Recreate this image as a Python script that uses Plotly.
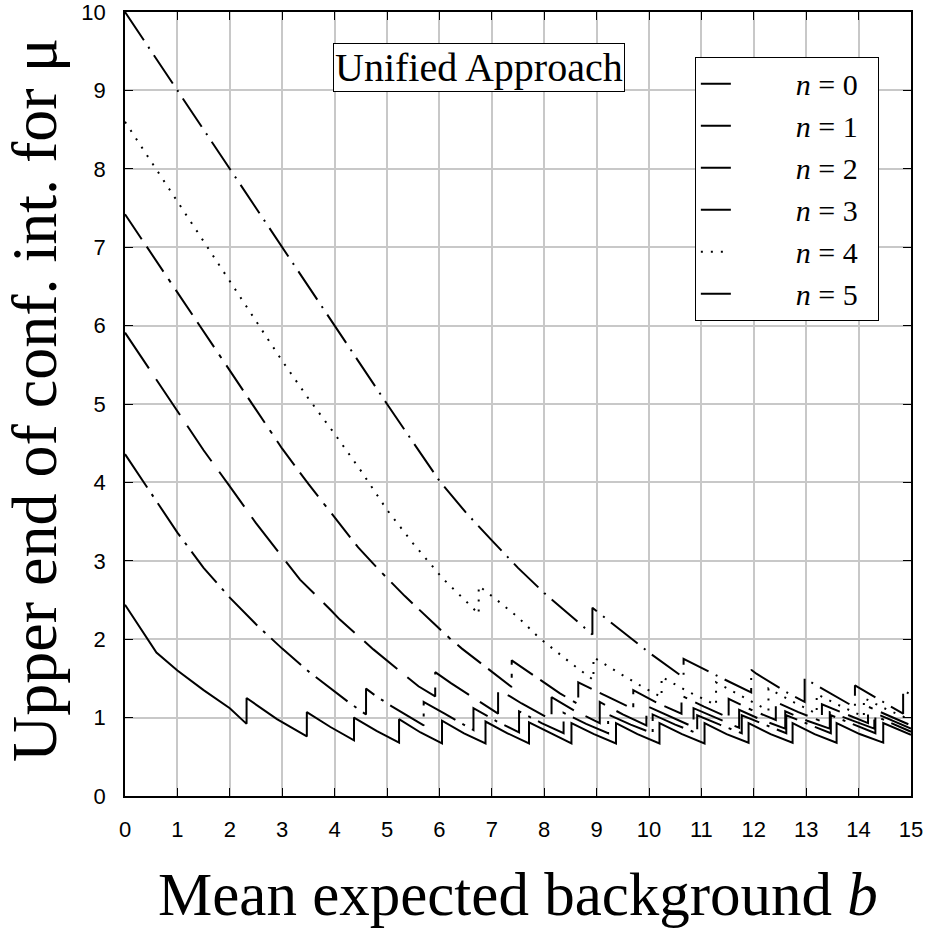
import plotly.graph_objects as go

# ---- data (b = mean expected background, mu = upper end) ----
b_n0 = [0, 0.3, 0.6, 1.0, 1.5, 2.0, 2.32, 2.32, 2.9, 3.47, 3.47, 3.92, 4.37, 4.37, 4.8, 5.23,
        5.23, 5.64, 6.05, 6.05, 6.47, 6.88, 6.88, 7.3, 7.71, 7.71, 8.12, 8.52, 8.52, 8.95, 9.37,
        9.37, 9.78, 10.2, 10.2, 10.63, 11.06, 11.06, 11.48, 11.9, 11.9, 12.32, 12.74, 12.74,
        13.16, 13.58, 13.58, 14.02, 14.47, 14.47, 15.0]
mu_n0 = [2.44, 2.13, 1.83, 1.60, 1.35, 1.12, 0.92, 1.25, 0.98, 0.76, 1.07, 0.88, 0.71, 1.00, 0.83, 0.68,
         0.98, 0.81, 0.67, 0.96, 0.80, 0.67, 0.95, 0.80, 0.67, 0.94, 0.80, 0.67, 0.93, 0.79, 0.67,
         0.93, 0.79, 0.67, 0.93, 0.79, 0.67, 0.93, 0.79, 0.68, 0.93, 0.79, 0.68, 0.93,
         0.79, 0.68, 0.93, 0.79, 0.68, 0.93, 0.78]

b_n1 = [0, 0.5, 1.0, 1.5, 2.0, 2.5, 3.0, 3.5, 4.0, 4.3, 4.6, 4.6, 4.8, 5.1, 5.7, 5.7, 6.1, 6.65,
        6.65, 7.1, 7.52, 7.52, 7.95, 8.37, 8.37, 8.8, 9.22, 9.22, 9.65, 10.07, 10.07, 10.5, 10.92,
        10.92, 11.35, 11.77, 11.77, 12.2, 12.62, 12.62, 13.05, 13.47, 13.47, 13.9, 14.32, 14.32, 15.0]
mu_n1 = [4.36, 3.86, 3.36, 2.91, 2.53, 2.19, 1.88, 1.59, 1.33, 1.18, 1.04, 1.37, 1.27, 1.14, 0.90, 1.20, 1.05, 0.84,
         1.12, 0.95, 0.81, 1.08, 0.93, 0.80, 1.06, 0.92, 0.80, 1.04, 0.91, 0.80, 1.04, 0.91, 0.80,
         1.03, 0.91, 0.80, 1.03, 0.91, 0.80, 1.03, 0.91, 0.80, 1.03, 0.91, 0.80, 1.02, 0.82]

b_n2 = [0, 0.5, 1.0, 1.5, 2.0, 2.5, 3.0, 3.34, 3.93, 4.1, 4.74, 4.96, 5.6, 5.92, 5.92, 6.22, 6.92,
        7.12, 7.12, 7.35, 7.57, 8.14, 8.14, 8.6, 9.06, 9.06, 9.5, 9.95, 9.95, 10.4, 10.85, 10.85,
        11.3, 11.72, 11.72, 12.15, 12.6, 12.6, 13.02, 13.45, 13.45, 13.88, 14.3, 14.3, 15.0]
mu_n2 = [5.91, 5.41, 4.91, 4.41, 3.95, 3.48, 3.05, 2.76, 2.37, 2.25, 1.87, 1.75, 1.40, 1.27, 1.58, 1.44, 1.14,
         1.05, 1.35, 1.27, 1.18, 0.97, 1.26, 1.08, 0.93, 1.20, 1.04, 0.90, 1.15, 1.01, 0.88, 1.12,
         0.99, 0.87, 1.10, 0.97, 0.86, 1.08, 0.96, 0.86, 1.07, 0.96, 0.86, 1.06, 0.86]

b_n3 = [0, 1.0, 2.0, 3.0, 3.5, 4.0, 4.45, 4.84, 5.34, 5.88, 6.2, 6.43, 7.0, 7.38, 7.38, 7.7, 8.3,
        8.65, 8.65, 9.2, 9.7, 9.7, 10.15, 10.62, 10.62, 11.05, 11.52, 11.52, 11.95, 12.42, 12.42,
        12.85, 13.3, 13.3, 13.75, 14.18, 14.18, 15.0]
mu_n3 = [7.42, 6.42, 5.42, 4.43, 3.98, 3.56, 3.17, 2.89, 2.55, 2.21, 2.01, 1.88, 1.58, 1.39, 1.73, 1.58, 1.31,
         1.17, 1.45, 1.27, 1.11, 1.35, 1.19, 1.05, 1.28, 1.14, 1.00, 1.24, 1.10, 0.97, 1.20,
         1.07, 0.95, 1.17, 1.05, 0.93, 1.14, 0.90]

b_n4 = [0, 0.5, 1.0, 1.5, 2.0, 2.5, 3.0, 3.5, 4.0, 4.5, 5.0, 5.5, 6.07, 6.62, 6.75, 6.75, 7.06,
        7.5, 7.9, 8.05, 8.5, 8.94, 8.94, 9.4, 9.83, 10.24, 10.24, 10.75, 11.28, 11.28, 11.8, 12.28,
        12.28, 12.75, 13.2, 13.2, 13.65, 14.1, 14.1, 14.55, 15.0]
mu_n4 = [8.60, 8.09, 7.59, 7.08, 6.57, 6.05, 5.55, 5.07, 4.62, 4.15, 3.65, 3.22, 2.77, 2.41, 2.32, 2.68, 2.52,
         2.28, 2.02, 1.94, 1.70, 1.48, 1.77, 1.58, 1.41, 1.26, 1.52, 1.33, 1.16, 1.45, 1.26, 1.09,
         1.37, 1.20, 1.05, 1.30, 1.15, 1.01, 1.25, 1.10, 0.97]

b_n5 = [0, 1, 2, 3, 4, 5, 6, 6.5, 7, 7.5, 8, 8.56, 8.92, 8.92, 9.5, 10.0, 10.66, 10.66, 11.34,
        11.95, 11.95, 12.05, 12.66, 12.97, 12.97, 13.45, 13.93, 13.93, 14.4, 14.85, 14.85, 15.0]
mu_n5 = [10.0, 9.0, 8.0, 7.0, 6.0, 5.0, 4.02, 3.62, 3.26, 2.91, 2.59, 2.26, 2.06, 2.40, 2.10, 1.83, 1.51, 1.75, 1.52,
         1.32, 1.61, 1.56, 1.31, 1.20, 1.50, 1.31, 1.13, 1.41, 1.23, 1.05, 1.35, 1.29]

legend_labels = ["<i>n</i> = 0", "<i>n</i> = 1", "<i>n</i> = 2",
                 "<i>n</i> = 3", "<i>n</i> = 4", "<i>n</i> = 5"]

series = [
    (b_n0, mu_n0, "solid"),
    (b_n1, mu_n1, "40px,8px,3px,8px"),
    (b_n2, mu_n2, "43px,13px"),
    (b_n3, mu_n3, "30px,9px,30px,9px,4px,9px"),
    (b_n4, mu_n4, "2px,8px"),
    (b_n5, mu_n5, "34px,8px,2px,8px"),
]

x_ticks = list(range(0, 16))
y_ticks = list(range(0, 11))

serif = "Liberation Serif, Times New Roman, serif"
sans = "Liberation Sans, Arial, sans-serif"

pad = "&nbsp;" * 8
fig = go.Figure()
for i, ((bx, my, dash), label) in enumerate(zip(series, legend_labels)):
    fig.add_trace(go.Scatter(
        x=bx, y=my, mode="lines", name=pad + label + "&nbsp;&nbsp;", legendgroup=str(i),
        line=dict(color="black", width=2, dash=dash),
    ))

axis_common = dict(
    showgrid=True, gridcolor="#c8c8c8", gridwidth=1.5,
    showline=True, linecolor="black", linewidth=1.5, mirror="ticks",
    ticks="inside", ticklen=8, tickwidth=1.2, tickcolor="black",
    zeroline=False, tickfont=dict(family=sans, size=22, color="black"),
    ticklabeloverflow="allow", automargin=False,
)

fig.update_xaxes(range=[0, 15], tickvals=x_ticks, ticktext=[str(v) for v in x_ticks],
                 ticklabelstandoff=13, **axis_common)
fig.update_yaxes(range=[0, 10], tickvals=y_ticks, ticktext=[str(v) for v in y_ticks],
                 ticklabelstandoff=13, **axis_common)

fig.update_layout(
    width=928, height=928,
    margin=dict(l=125, r=17, t=12, b=132, autoexpand=False),
    plot_bgcolor="white", paper_bgcolor="white",
    showlegend=True,
    legend=dict(
        x=0.725, y=0.943, xanchor="left", yanchor="top",
        bordercolor="black", borderwidth=1, bgcolor="white",
        font=dict(family=serif, size=30, color="black"),
        tracegroupgap=0,
    ),
    annotations=[
        dict(text="Unified Approach", xref="paper", yref="paper", x=0.45, y=0.929,
             xanchor="center", yanchor="middle", showarrow=False,
             font=dict(family=serif, size=40, color="black"),
             bordercolor="black", borderwidth=1, borderpad=1, bgcolor="white"),
        dict(text="Mean expected background <i>b</i>", xref="paper", yref="paper",
             x=0.5, y=-0.126, xanchor="center", yanchor="middle", showarrow=False,
             font=dict(family=serif, size=61, color="black")),
        dict(text="Upper end of conf. int. for μ", xref="paper", yref="paper",
             x=-0.116, y=0.505, xanchor="center", yanchor="middle", showarrow=False,
             textangle=-90, font=dict(family=serif, size=64, color="black")),
    ],
)

fig.write_html("out.html", config={"displayModeBar": False},
               post_script="document.body.style.margin='0';document.body.style.overflow='hidden';")
